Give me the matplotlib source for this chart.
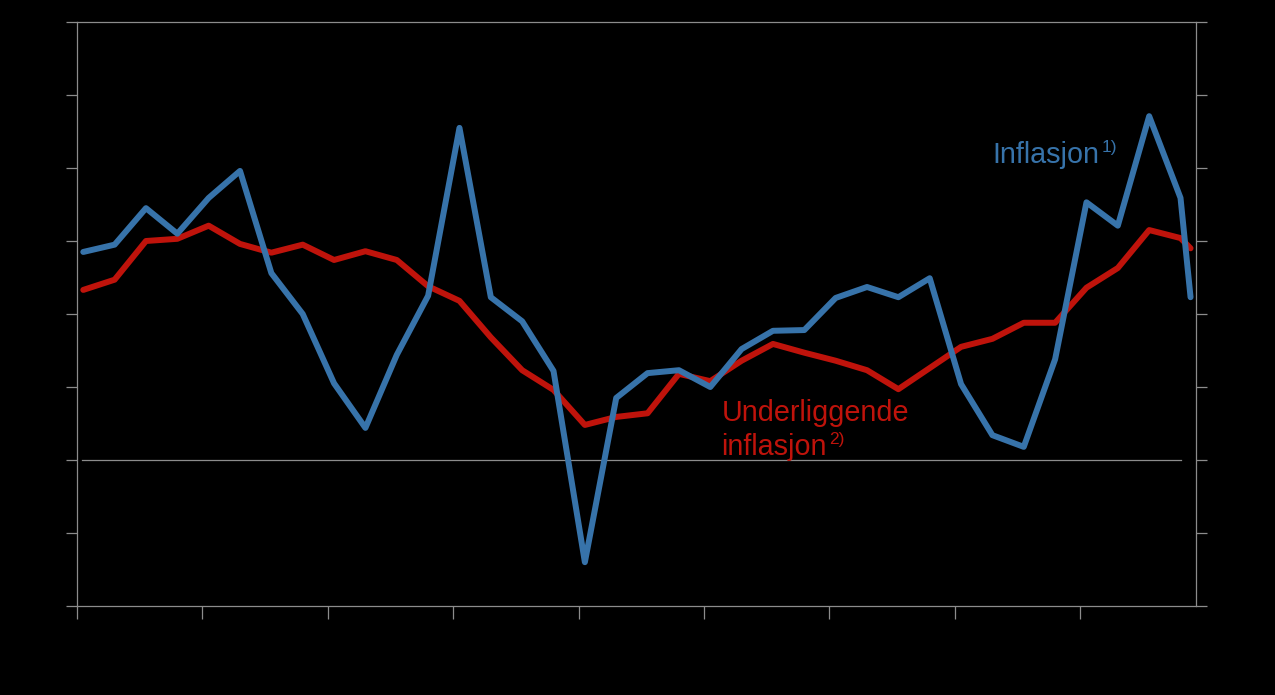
import numpy as np
import matplotlib.pyplot as plt

plt.rcParams['font.family'] = ['Liberation Sans', 'DejaVu Sans']

# quarterly observations (decimal year), last one is a single month later
years = [2000.05 + 0.25 * i for i in range(36)] + [2008.88]

inflasjon = [2.85, 2.95, 3.45, 3.10, 3.59, 3.96, 2.56, 2.00, 1.05, 0.44,
             1.44, 2.25, 4.55, 2.23, 1.90, 1.22, -1.40, 0.85, 1.19, 1.23,
             1.00, 1.52, 1.77, 1.78, 2.22, 2.37, 2.23, 2.49, 1.04, 0.34,
             0.18, 1.38, 3.53, 3.21, 4.71, 3.59, 2.23]

underliggende = [2.33, 2.47, 3.00, 3.03, 3.21, 2.96, 2.84, 2.95, 2.74, 2.86,
                 2.74, 2.38, 2.18, 1.68, 1.23, 0.96, 0.48, 0.59, 0.64, 1.18,
                 1.08, 1.36, 1.59, 1.47, 1.36, 1.23, 0.97, 1.26, 1.55, 1.66,
                 1.88, 1.88, 2.36, 2.63, 3.15, 3.04, 2.90]

year_ticks = list(range(2000, 2009))
y_ticks = list(range(-2, 7))

blue = '#3773aa'
red = '#bf130b'
grey = '#8c8c8c'

fig = plt.figure(figsize=(12.75, 6.95), dpi=100, facecolor='black')
ax = fig.add_axes([77 / 1275, 89 / 695, 1119 / 1275, 584 / 695])
ax.set_facecolor('black')

ax.axhline(0, xmin=0.0045, xmax=0.987, color=grey, lw=0.9)
ax.plot(years, underliggende, color=red, lw=4.3, solid_capstyle='round', solid_joinstyle='round')
ax.plot(years, inflasjon, color=blue, lw=4.3, solid_capstyle='round', solid_joinstyle='round')

ax.set_xlim(2000, 2000 + 1119 / 125.4)
ax.set_ylim(-2, 6)
ax.set_xticks(year_ticks)
ax.set_yticks(y_ticks)
ax.set_xticklabels([])
ax.set_yticklabels([])

for s in ax.spines.values():
    s.set_color(grey)
    s.set_linewidth(0.9)
ax.tick_params(axis='x', direction='out', length=9, color=grey, width=0.9)
ax.tick_params(axis='y', direction='out', length=8, color=grey, width=0.9,
               left=True, right=True)

t1 = ax.text(2007.30, 4.07, 'Inflasjon', color=blue, fontsize=20.7, va='baseline')
ax.annotate('1)', xy=(1, 0.5), xycoords=t1, color=blue, fontsize=12.5,
            va='bottom', ha='left', xytext=(1.5, 0), textcoords='offset points')

ax.text(2005.14, 0.53, 'Underliggende', color=red, fontsize=20.7, va='baseline')
t2 = ax.text(2005.14, 0.07, 'inflasjon', color=red, fontsize=20.7, va='baseline')
ax.annotate('2)', xy=(1, 0.5), xycoords=t2, color=red, fontsize=12.5,
            va='bottom', ha='left', xytext=(1.5, 0), textcoords='offset points')

fig.savefig('out.png', dpi=100, facecolor='black')
